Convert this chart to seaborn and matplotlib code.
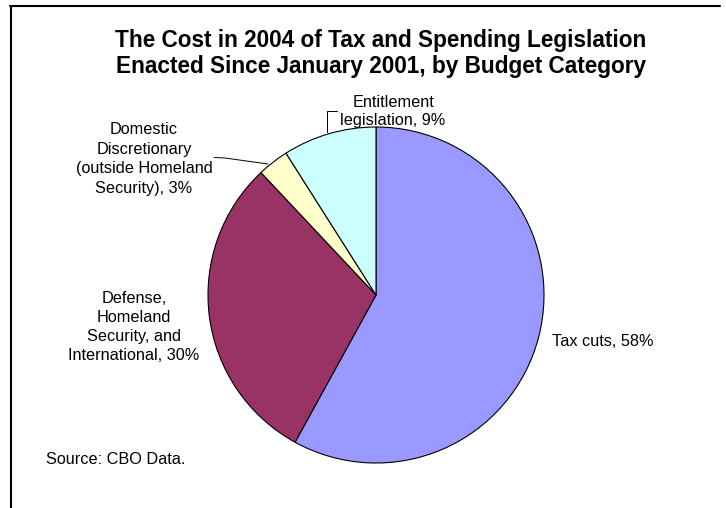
import matplotlib
matplotlib.use("Agg")
import matplotlib.pyplot as plt
import seaborn as sns

sns.set_theme(style="white")
plt.rcParams['font.family'] = ['Liberation Sans', 'DejaVu Sans']
plt.rcParams['text.color'] = 'black'

categories = ["Tax cuts", "Defense, Homeland Security, and International",
              "Domestic Discretionary (outside Homeland Security)", "Entitlement legislation"]
values = [58, 30, 3, 9]
colors = ["#9999FF", "#993366", "#FFFFCC", "#CCFFFF"]
label_lines = [["Tax cuts, 58%"],
               ["Defense,", "Homeland", "Security, and", "International, 30%"],
               ["Domestic", "Discretionary", "(outside Homeland", "Security), 3%"],
               ["Entitlement", "legislation, 9%"]]
title_lines = ["The Cost in 2004 of Tax and Spending Legislation",
               "Enacted Since January 2001, by Budget Category"]
source = "Source: CBO Data."

W, H = 726, 508
fig = plt.figure(figsize=(W / 100, H / 100), dpi=100)
fig.patch.set_facecolor("white")

# pie axes
cx, cy, r = 376, 295, 168
ax = fig.add_axes([(cx - r) / W, (H - cy - r) / H, 2 * r / W, 2 * r / H])
ax.pie(values, colors=colors, startangle=90, counterclock=False, radius=1,
       wedgeprops=dict(edgecolor="black", linewidth=0.8))
ax.set_xlim(-1, 1)
ax.set_ylim(-1, 1)
ax.set_aspect("equal")
ax.axis("off")


def fx(x):
    return x / W


def fy(y):
    return 1 - y / H


# frame (top and left)
fig.add_artist(plt.Line2D([fx(10.5), fx(10.5)], [fy(6), 0], color="black", lw=1.5,
                          transform=fig.transFigure))
fig.add_artist(plt.Line2D([fx(10), fx(720)], [fy(6), fy(6)], color="black", lw=1.5,
                          transform=fig.transFigure))

# title
for i, line in enumerate(title_lines):
    fig.text(fx(381), fy(46.7 + 26.3 * i), line, ha="center", va="baseline",
             fontsize=16.3, fontweight="bold", color="black")

fs = 11.7


def block(lines, x, y0, dy, ha="center"):
    for i, line in enumerate(lines):
        fig.text(fx(x), fy(y0 + dy * i), line, ha=ha, va="baseline", fontsize=fs, color="black")


block(label_lines[0], 551.7, 345.7, 0, ha="left")
block(label_lines[1], 134, 303.3, 19.0)
block(label_lines[2], 144, 134.5, 19.4)
block(label_lines[3], 393, 106.7, 18.4)
fig.text(fx(46), fy(464), source, ha="left", va="baseline", fontsize=fs, color="black")

# leader lines
fig.add_artist(plt.Line2D([fx(214), fx(225), fx(268)], [fy(157.5), fy(158), fy(164)],
                          color="black", lw=0.7, transform=fig.transFigure))
fig.add_artist(plt.Line2D([fx(327), fx(327), fx(337)], [fy(132), fy(111), fy(111)],
                          color="black", lw=0.7, transform=fig.transFigure))

fig.savefig("out.png", dpi=100)
